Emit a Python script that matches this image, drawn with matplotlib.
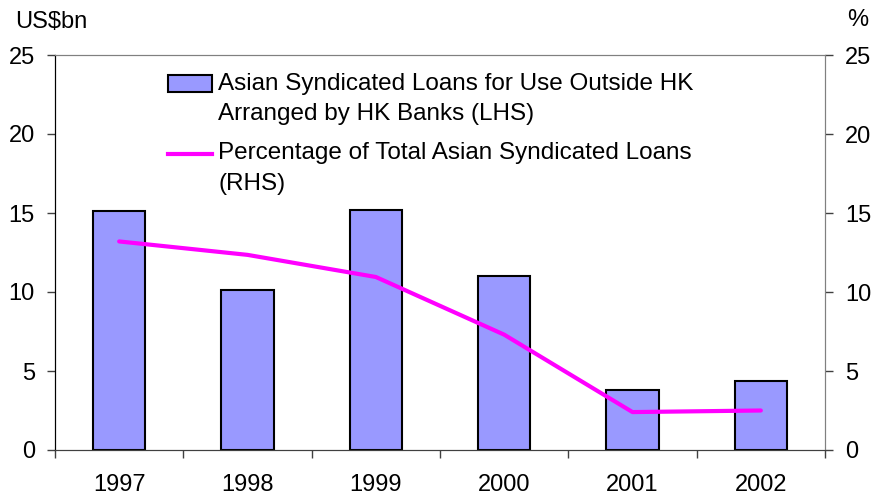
import matplotlib
matplotlib.use("Agg")
import matplotlib.pyplot as plt
from matplotlib.patches import Rectangle
from matplotlib.lines import Line2D
import numpy as np

plt.rcParams["font.family"] = ["Liberation Sans", "DejaVu Sans"]

years = ["1997", "1998", "1999", "2000", "2001", "2002"]
loans_bn = [15.1, 10.1, 15.2, 11.0, 3.8, 4.35]      # LHS, US$bn
pct_total = [13.2, 12.35, 10.95, 7.3, 2.4, 2.5]     # RHS, %

BAR_COLOR = "#9999FF"
LINE_COLOR = "#FF00FF"
FS = 17

W, H = 874, 499
fig = plt.figure(figsize=(W / 100, H / 100), dpi=100)
# axes box in pixels: x 55..825, y 55..450
ax = fig.add_axes([55 / W, 1 - 450 / H, 770 / W, 395 / H])
x = np.arange(len(years))

ax.bar(x, loans_bn, width=0.41, color=BAR_COLOR, edgecolor="black",
       linewidth=1.5, zorder=2)
ax.set_xlim(-0.5, len(years) - 0.5)
ax.set_ylim(0, 25)
ax.set_yticks(range(0, 26, 5))
ax.set_xticks(x)
ax.set_xticklabels(years)
ax.set_xticks(np.arange(-0.5, len(years)), minor=True)
ax.tick_params(axis="x", which="major", length=0, labelsize=FS, pad=17)
ax.tick_params(axis="x", which="minor", length=5.5, width=1, color="#404040")
ax.tick_params(axis="y", length=5.5, width=1, labelsize=FS, color="#404040", pad=9)

ax2 = ax.twinx()
ax2.plot(x, pct_total, color=LINE_COLOR, lw=3, zorder=3, solid_capstyle="round")
ax2.set_ylim(0, 25)
ax2.set_yticks(range(0, 26, 5))
ax2.tick_params(axis="y", length=5.5, width=1, labelsize=FS, color="#404040", pad=9)

for a in (ax, ax2):
    for s in ("top", "right"):
        a.spines[s].set_color("#808080")
    a.spines["left"].set_color("black")
    a.spines["bottom"].set_color("#404040")

# legend drawn by hand (handles sit next to the first text line)
def fy(py):
    return 1 - py / H

def fx(px):
    return px / W

fig.patches.append(Rectangle((fx(168), fy(92)), fx(212) - fx(168), fy(75) - fy(92),
                             transform=fig.transFigure, facecolor=BAR_COLOR,
                             edgecolor="black", linewidth=1.5, zorder=5))
fig.lines.append(Line2D([fx(168), fx(212)], [fy(154), fy(154)],
                        transform=fig.transFigure, color=LINE_COLOR, lw=3,
                        zorder=5))
legend_lines = [
    (84, "Asian Syndicated Loans for Use Outside HK"),
    (114, "Arranged by HK Banks (LHS)"),
    (153, "Percentage of Total Asian Syndicated Loans"),
    (184, "(RHS)"),
]
for py, txt in legend_lines:
    fig.text(fx(218), fy(py), txt, fontsize=17.5, va="center", ha="left")

fig.text(fx(15), fy(22), "US$bn", fontsize=FS, va="center", ha="left")
fig.text(fx(858), fy(20), "%", fontsize=FS, va="center", ha="center")

fig.savefig("out.png", dpi=100)
